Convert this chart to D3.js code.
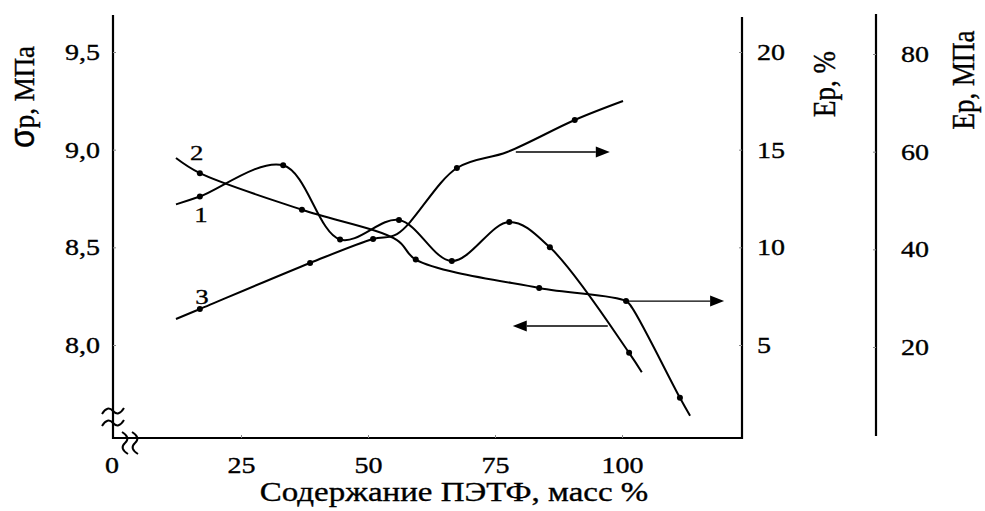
<!DOCTYPE html>
<html>
<head>
<meta charset="utf-8">
<script src="https://cdn.jsdelivr.net/npm/d3@7"></script>
<style>
  html, body { margin: 0; padding: 0; background: #fff; }
  svg { display: block; }
</style>
</head>
<body>
<svg id="chart" width="985" height="511"></svg>
<script>
// ---- data ----
const xTicks = [0, 25, 50, 75, 100];
const leftTicks = [8.0, 8.5, 9.0, 9.5];       // σр, МПа
const midTicks = [5, 10, 15, 20];              // Ер, %
const rightTicks = [20, 40, 60, 80];           // Ер, МПа

// curve 1 -> σр (left axis)
const s1X = [12.2, 16.9, 33.3, 44.5, 56.1, 66.5, 77.8, 85.8, 101.4, 103.9];
const s1Y = [8.72, 8.76, 8.92, 8.54, 8.64, 8.43, 8.63, 8.50, 7.96, 7.86];
const s1Mark = [0, 1, 1, 1, 1, 1, 1, 1, 1, 0];

// curve 2 -> Ер, МПа (rightmost axis)
const s2X = [12.2, 16.9, 37.0, 55.7, 59.4, 83.7, 100.8, 102.0, 111.4, 113.4];
const s2Y = [58.7, 55.6, 48.1, 41.9, 37.9, 32.1, 29.4, 28.0, 9.6, 5.9];
const s2Mark = [0, 1, 1, 0, 1, 1, 1, 0, 1, 0];

// curve 3 -> Ер, % (middle axis)
const s3X = [12.2, 16.9, 38.6, 51.0, 55.7, 67.5, 77.4, 90.7, 100.2];
const s3Y = [6.33, 6.84, 9.20, 10.43, 10.68, 14.06, 14.88, 16.52, 17.49];
const s3Mark = [0, 1, 1, 1, 0, 1, 0, 1, 0];

// curve numbers (positions in x / σр units)
const curveLabels = ["2", "1", "3"];
const curveLabelX = [16.3, 17.1, 17.3];
const curveLabelY = [8.988, 8.671, 8.251];

// arrows: [x from, x to, value on its own axis]
const arrowMid = [79.1, 97.6, 14.88];    // to Ер, %
const arrowLeft = [97.2, 78.5, 8.097];   // to σр
const arrowRight = [100.8, 120.1, 29.4]; // to Ер, МПа

// ---- layout ----
const FONT = "Liberation Serif";
const svg = d3.select("#chart");
const x = d3.scaleLinear().domain([0, 100]).range([114, 622]);
const yL = d3.scaleLinear().domain([8, 9.5]).range([345, 52]);
const yE = d3.scaleLinear().domain([5, 20]).range([345, 52]);
const yM = d3.scaleLinear().domain([20, 80]).range([347, 54]);

const leftX = 113, midX = 742, rightX = 876, baseY = 438;
const SX = 1.22; // horizontal stretch of the lettering in the original
const TXT_STROKE = 0.35;

function stretch(sel, sx) {
  sel.each(function () {
    const t = d3.select(this);
    const tx = +t.attr("x") || 0, ty = +t.attr("y") || 0;
    t.attr("x", 0).attr("y", 0).attr("transform", `translate(${tx},${ty}) scale(${sx},1)`);
  });
}

function line(x1, y1, x2, y2, w) {
  svg.append("line").attr("x1", x1).attr("y1", y1).attr("x2", x2).attr("y2", y2)
    .attr("stroke", "#000").attr("stroke-width", w).attr("stroke-linecap", "butt");
}
line(leftX, 15, leftX, baseY + 1, 2.2);
line(leftX - 1, baseY, midX + 1, baseY, 2.2);
line(midX, 17, midX, baseY + 1, 2.2);
line(rightX, 14, rightX, 436, 2.2);

function styleAxis(g, fs) {
  g.attr("font-family", FONT).attr("font-size", fs);
  g.select(".domain").remove();
  g.selectAll(".tick line").attr("stroke", "#888").attr("stroke-width", 1);
  g.selectAll(".tick text").attr("font-size", fs).attr("font-family", FONT)
    .attr("fill", "#000").attr("stroke", "#000").attr("stroke-width", TXT_STROKE);
}
const gx = svg.append("g").attr("transform", `translate(0,${baseY})`)
  .call(d3.axisBottom(x).tickValues(xTicks).tickFormat(d3.format("d")).tickSize(-3).tickPadding(19));
styleAxis(gx, 23);
gx.selectAll(".tick").filter(d => d === 0).select("line").remove();
gx.selectAll(".tick").filter(d => d === 0).select("text").attr("dx", -2);
stretch(gx.selectAll(".tick text"), SX);

const gl = svg.append("g").attr("transform", `translate(${leftX},0)`)
  .call(d3.axisLeft(yL).tickValues(leftTicks).tickFormat(d => d.toFixed(1).replace(".", ",")).tickSize(-3).tickPadding(13));
styleAxis(gl, 23);
stretch(gl.selectAll(".tick text"), SX);

const gm = svg.append("g").attr("transform", `translate(${midX},0)`)
  .call(d3.axisRight(yE).tickValues(midTicks).tickFormat(d3.format("d")).tickSize(-3).tickPadding(15));
styleAxis(gm, 23);
stretch(gm.selectAll(".tick text"), SX);

const gr = svg.append("g").attr("transform", `translate(${rightX},0)`)
  .call(d3.axisRight(yM).tickValues(rightTicks).tickFormat(d3.format("d")).tickSize(-3).tickPadding(25));
styleAxis(gr, 23);
stretch(gr.selectAll(".tick text"), SX);

// axis break marks
function squiggle(cx, cy, rot) {
  svg.append("path")
    .attr("d", "M-11,3 Q-5.5,-6 0,0 T11,-3")
    .attr("transform", `translate(${cx},${cy}) rotate(${rot})`)
    .attr("fill", "none").attr("stroke", "#000").attr("stroke-width", 2);
}
squiggle(leftX, 411, 0);
squiggle(leftX, 423, 0);
squiggle(125, 443, 90);
squiggle(135, 443, 90);

// curves
const curveGen = (sy) => d3.line().x(d => x(d[0])).y(d => sy(d[1])).curve(d3.curveCatmullRom.alpha(0.5));
function drawSeries(xs, ys, marks, sy) {
  const pts = xs.map((v, i) => [v, ys[i], marks[i]]);
  svg.append("path").datum(pts).attr("d", curveGen(sy))
    .attr("fill", "none").attr("stroke", "#000").attr("stroke-width", 2);
  svg.append("g").selectAll("circle").data(pts.filter(p => p[2])).join("circle")
    .attr("cx", d => x(d[0])).attr("cy", d => sy(d[1])).attr("r", 3).attr("fill", "#000");
}
drawSeries(s1X, s1Y, s1Mark, yL);
drawSeries(s2X, s2Y, s2Mark, yM);
drawSeries(s3X, s3Y, s3Mark, yE);

// arrows
function arrow(a, sy) {
  const x1 = x(a[0]), x2 = x(a[1]), yy = sy(a[2]);
  const dir = Math.sign(x2 - x1), head = 14, hw = 5.5;
  svg.append("line").attr("x1", x1).attr("y1", yy).attr("x2", x2 - dir * head).attr("y2", yy)
    .attr("stroke", "#000").attr("stroke-width", 1.4);
  svg.append("path")
    .attr("d", `M${x2},${yy} L${x2 - dir * head},${yy - hw} L${x2 - dir * head},${yy + hw} Z`)
    .attr("fill", "#000");
}
arrow(arrowMid, yE);
arrow(arrowLeft, yL);
arrow(arrowRight, yM);

// curve numbers
const lab = svg.append("g").selectAll("text").data(curveLabels).join("text")
  .attr("x", (d, i) => x(curveLabelX[i])).attr("y", (d, i) => yL(curveLabelY[i]))
  .attr("text-anchor", "middle").attr("dy", "0.35em").attr("font-size", 22)
  .attr("font-family", FONT).attr("stroke", "#000").attr("stroke-width", TXT_STROKE).text(d => d);
stretch(lab, SX);

// axis titles
function title(tr, fs, txt) {
  return svg.append("text").attr("transform", tr).attr("text-anchor", "middle")
    .attr("font-size", fs).attr("font-family", FONT).attr("fill", "#000")
    .attr("stroke", "#000").attr("stroke-width", TXT_STROKE).text(txt);
}
title(`translate(454,501) scale(${SX},1)`, 27, "Содержание ПЭТФ, масс %");
const t1 = title(`translate(34,97) rotate(-90) scale(1,1.12)`, 27, null);
t1.append("tspan").attr("font-family", "Liberation Sans").attr("font-size", 32).text("σ");
t1.append("tspan").text("р, МПа");
title(`translate(835,84) rotate(-90) scale(1,1.15)`, 27, "Ер, %");
title(`translate(974,80) rotate(-90) scale(1,1.15)`, 27, "Ер, МПа");
</script>
</body>
</html>
